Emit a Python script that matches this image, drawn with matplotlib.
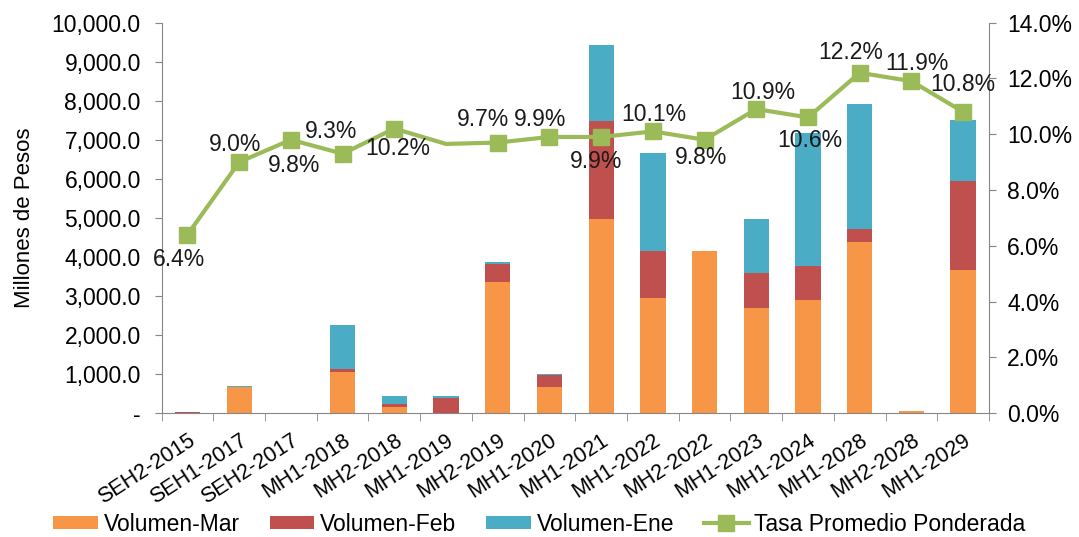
"""Stacked volume bars with weighted average rate line."""

import matplotlib.pyplot as plt
import matplotlib.transforms as mtransforms
import numpy as np
from matplotlib.ticker import FuncFormatter


CATEGORIES = [
    "SEH2-2015", "SEH1-2017", "SEH2-2017", "MH1-2018", "MH2-2018",
    "MH1-2019", "MH2-2019", "MH1-2020", "MH1-2021", "MH1-2022",
    "MH2-2022", "MH1-2023", "MH1-2024", "MH1-2028", "MH2-2028",
    "MH1-2029",
]
VOLUMEN_MAR = [0, 670, 0, 1050, 170, 0, 3350, 680, 4970, 2960,
               4140, 2700, 2890, 4380, 50, 3660]
VOLUMEN_FEB = [40, 0, 0, 70, 70, 380, 460, 300, 2500, 1180,
               0, 880, 880, 330, 0, 2280]
VOLUMEN_ENE = [0, 30, 0, 1140, 200, 50, 60, 30, 1950, 2510,
               0, 1400, 3410, 3210, 0, 1560]
TASA = [6.4, 9.0, 9.8, 9.3, 10.2, 9.65, 9.7, 9.9, 9.9, 10.1,
        9.8, 10.9, 10.6, 12.2, 11.9, 10.8]
TASA_LABELS = ["6.4%", "9.0%", "9.8%", "9.3%", "10.2%", None, "9.7%",
               "9.9%", "9.9%", "10.1%", "9.8%", "10.9%", "10.6%",
               "12.2%", "11.9%", "10.8%"]

# label offsets in pixels (dx, dy up)
LABEL_OFFSETS = [(-8, -25), (-4, 18), (3, -26), (-12, 22), (3, -20), None,
                 (-15, 23), (-9, 17), (-5, -25), (1, 17), (-4, -18),
                 (7, 17), (2, -23), (-9, 20), (5, 18), (0, 27)]

ORANGE = "#f79646"
RED = "#c0504d"
CYAN = "#4bacc6"
GREEN = "#9bbb59"
SPINE = "#868686"


def main() -> None:
    plt.rcParams.update({"font.family": ["Liberation Sans", "DejaVu Sans"]})
    fig = plt.figure(figsize=(10.79, 5.37), dpi=100)
    ax = fig.add_axes([0.1498, 0.2305, 0.7668, 0.7275])
    px = 72 / 100

    x = np.arange(len(CATEGORIES))
    mar = np.array(VOLUMEN_MAR)
    feb = np.array(VOLUMEN_FEB)
    ene = np.array(VOLUMEN_ENE)
    width = 0.49
    ax.bar(x, mar, width, color=ORANGE, label="Volumen-Mar")
    ax.bar(x, feb, width, bottom=mar, color=RED, label="Volumen-Feb")
    ax.bar(x, ene, width, bottom=mar + feb, color=CYAN, label="Volumen-Ene")

    ax.set_xlim(-0.5, len(CATEGORIES) - 0.5)
    ax.set_ylim(0, 10000)
    ax.set_yticks(np.arange(0, 10001, 1000))
    ax.yaxis.set_major_formatter(
        FuncFormatter(lambda v, _: "-" if v == 0 else f"{v:,.1f}")
    )
    ax.set_xticks(x)
    ax.set_xticklabels(CATEGORIES, rotation=33, ha="right", va="top",
                       rotation_mode="anchor", fontsize=15.5)
    shift = mtransforms.ScaledTranslation(4 / 100, 0, fig.dpi_scale_trans)
    for lbl in ax.get_xticklabels():
        lbl.set_transform(lbl.get_transform() + shift)
    ax.set_xticks(np.arange(-0.5, len(CATEGORIES), 1), minor=True)
    ax.tick_params(axis="x", which="major", length=0, pad=12)
    ax.tick_params(axis="x", which="minor", length=6, color=SPINE,
                   direction="out")
    ax.tick_params(axis="y", length=5, color=SPINE, labelsize=16.5, pad=10)
    ax.set_ylabel("Millones de Pesos", fontsize=16, labelpad=12)
    for side in ("top", "right"):
        ax.spines[side].set_visible(False)
    for side in ("left", "bottom"):
        ax.spines[side].set_color(SPINE)

    ax2 = ax.twinx()
    marks = [i for i, lab in enumerate(TASA_LABELS) if lab is not None]
    ax2.plot(x, TASA, color=GREEN, linewidth=3, marker="s", markersize=12,
             markevery=marks, label="Tasa Promedio Ponderada")
    ax2.set_ylim(0, 14)
    ax2.set_yticks(np.arange(0, 14.1, 2))
    ax2.yaxis.set_major_formatter(FuncFormatter(lambda v, _: f"{v:.1f}%"))
    ax2.tick_params(axis="y", length=5, color=SPINE, labelsize=16.5, pad=8)
    for side in ("top", "left", "bottom"):
        ax2.spines[side].set_visible(False)
    ax2.spines["right"].set_color(SPINE)

    for i, (val, lab, off) in enumerate(zip(TASA, TASA_LABELS, LABEL_OFFSETS)):
        if lab is None:
            continue
        ax2.annotate(lab, (x[i], val), xytext=(off[0] * px, off[1] * px),
                     textcoords="offset points", ha="center", va="center",
                     fontsize=16.5, color="#1a1a1a")

    handles = ax.get_legend_handles_labels()[0] + ax2.get_legend_handles_labels()[0]
    labels = [h.get_label() for h in handles]
    fig.legend(handles, labels, loc="center", bbox_to_anchor=(0.5, 0.024),
               ncol=4, frameon=False, fontsize=16.5, handlelength=1.95,
               handleheight=0.55, handletextpad=0.25, columnspacing=1.3,
               borderaxespad=0, borderpad=0)

    fig.savefig("out.png", dpi=100)
    plt.close(fig)


if __name__ == "__main__":
    main()
